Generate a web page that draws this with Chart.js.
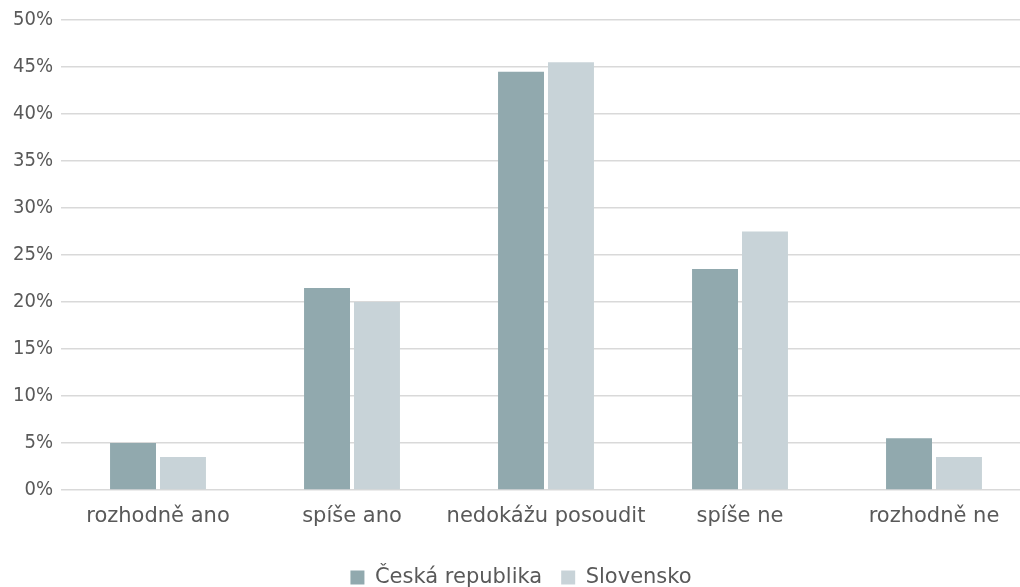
<!DOCTYPE html>
<html>
<head>
<meta charset="utf-8">
<script src="https://cdn.jsdelivr.net/npm/chart.js@4/dist/chart.umd.min.js"></script>
<style>
  html, body { margin: 0; padding: 0; background: #fff; overflow: hidden; }
  #wrap { width: 1031px; height: 587px; }
</style>
</head>
<body>
<div id="wrap"><canvas id="myChart"></canvas></div>
<script>
const kategorie = ['rozhodně ano', 'spíše ano', 'nedokážu posoudit', 'spíše ne', 'rozhodně ne'];
const ceskaRepublika = [5, 21.5, 44.5, 23.5, 5.5];
const slovensko = [3.5, 20, 45.5, 27.5, 3.5];

document.addEventListener('DOMContentLoaded', function() {
    const ctx = document.getElementById('myChart');
    const warnaTeks = '#595959';
    const pismo = "'DejaVu Sans', sans-serif";

    new Chart(ctx, {
        type: 'bar',
        data: {
            labels: kategorie,
            datasets: [{
                label: 'Česká republika',
                data: ceskaRepublika,
                backgroundColor: '#91a9ae',
                barPercentage: 0.92,
                categoryPercentage: 0.515
            }, {
                label: 'Slovensko',
                data: slovensko,
                backgroundColor: '#c8d3d8',
                barPercentage: 0.92,
                categoryPercentage: 0.515
            }]
        },
        options: {
            responsive: true,
            maintainAspectRatio: false,
            animation: false,
            layout: { padding: { top: 6, right: 0, left: 11, bottom: -11 } },
            scales: {
                x: {
                    grid: { display: false },
                    border: { display: false },
                    ticks: {
                        color: warnaTeks,
                        font: { family: pismo, size: 21 },
                        padding: 6,
                        maxRotation: 0,
                        minRotation: 0,
                        autoSkip: false
                    },
                    afterFit: function(axis) { axis.height = 58; }
                },
                y: {
                    min: 0,
                    max: 50,
                    grid: { color: '#d9d9d9', lineWidth: 1.5, drawTicks: false },
                    border: { display: false },
                    ticks: {
                        stepSize: 5,
                        color: warnaTeks,
                        font: { family: "'DejaVu Sans Condensed', 'DejaVu Sans', sans-serif", size: 20 },
                        padding: 8,
                        callback: function(v) { return v + '%'; }
                    },
                    afterFit: function(axis) { axis.width = 50; }
                }
            },
            plugins: {
                legend: {
                    position: 'bottom',
                    labels: {
                        color: warnaTeks,
                        font: { family: pismo, size: 21 },
                        boxWidth: 14,
                        boxHeight: 14,
                        padding: 19
                    }
                },
                tooltip: { enabled: false }
            }
        }
    });
});
</script>
</body>
</html>
